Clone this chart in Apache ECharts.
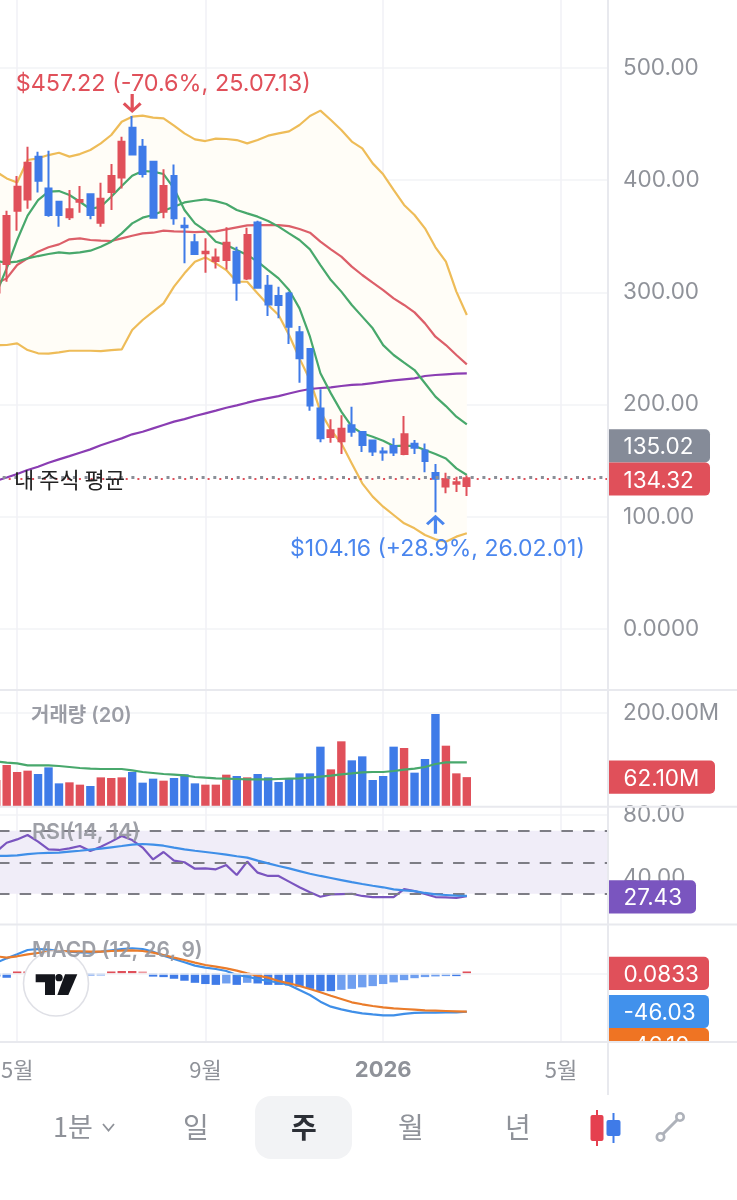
<!DOCTYPE html>
<html><head><meta charset="utf-8">
<style>html,body{margin:0;padding:0;background:#fff}#c{width:737px;height:1200px}</style>
<script src="https://cdn.jsdelivr.net/npm/echarts@6/dist/echarts.min.js"></script>
</head><body><div id="c"></div>
<script>
const weeks=['25-04-13','25-04-20','25-04-27','25-05-04','25-05-11','25-05-18','25-05-25','25-06-01','25-06-08','25-06-15','25-06-22','25-06-29','25-07-06','25-07-13','25-07-20','25-07-27','25-08-03','25-08-10','25-08-17','25-08-24','25-08-31','25-09-07','25-09-14','25-09-21','25-09-28','25-10-05','25-10-12','25-10-19','25-10-26','25-11-02','25-11-09','25-11-16','25-11-23','25-11-30','25-12-07','25-12-14','25-12-21','25-12-28','26-01-04','26-01-11','26-01-18','26-01-25','26-02-01','26-02-08','26-02-15','26-02-22','26-03-01','26-03-08','26-03-15','26-03-22','26-03-29','26-04-05','26-04-12','26-04-19','26-04-26','26-05-03','26-05-10','26-05-17','26-05-24'];
const axisMarks={'25-04-27':'5월','25-08-31':'9월','25-12-28':'2026','26-04-26':'5월'};
const opens=[300,325.3,372.8,382.9,420.9,392.7,380.8,366.9,380.8,387.4,362.1,389.5,402.5,446.8,429.9,416.5,371.9,403.7,359.4,344.6,334.8,328,328.8,336.3,312.5,362.4,306,296.8,299.1,264.4,249.5,196.6,171.1,167.3,181.5,175.6,168.1,158.3,163.1,156,165.2,159.2,139,126.9,129.5,127.4];
const closes=[325,368.1,394.2,415.6,399.5,369,369,374,382.3,369,383.5,403.7,434.3,423,405.5,366.6,394.8,366,358,334.2,336.3,331.2,344.3,308.6,351.1,304.2,289.3,288.7,269.4,241.2,199.3,170,177.1,178.5,175.9,164,158.3,157.2,157.2,173.5,161.6,149.7,134,133.4,130.7,134.32];
const lows=[295,309.5,355,374.6,389.1,367.5,358.6,364.5,371,365.1,358.6,373.4,392.7,422.1,402.5,365.7,366,360.3,325.9,333.3,317.6,321.4,320.5,292.6,311,303.6,278.9,276.9,254,219.5,194.6,166.4,166,155.9,171.4,157.7,154.2,150,154.2,154.8,156,139.6,104.16,120.9,122.1,118.5];
const highs=[330,372.8,403.7,429.9,425.4,426.3,380.8,391.2,394.8,388.3,397.8,414.4,438.8,457.22,436.7,416.5,409.7,414.1,366.9,352,348.2,339.2,358,340.7,357.7,363.9,315.5,305.1,300.6,270,249.5,213.6,186.9,190.4,198.1,175.9,169,161.9,169.9,189.8,168.4,165.4,147,139.3,135.8,136.7];
const maShort=[299,321.4,346.7,368.4,382.3,389.8,390.3,386.8,380.8,374.3,376.4,385.3,394.8,404,408.2,407.6,405.5,392.7,373.4,361.5,355,345.2,342.2,337.8,333.3,327.4,319.9,312.5,302.1,285.8,260.5,227.9,210,193.7,180.3,174.4,171.4,167.8,163.1,163.4,163.1,159.5,155.9,152,143.2,137.3];
const bbMid=[327.9,326.5,327.4,330.3,332.4,334.2,335.7,334.8,335.7,337.2,340.7,345.2,352.6,361.5,366.6,369,372.8,376.4,380.2,381.7,382.9,381.4,378.8,373.4,370.4,367.5,363.6,358.6,352.6,346.7,338.4,324.4,311,300.7,288.8,278.4,268,253,244.2,237.4,230.8,219,207.1,198.7,189.2,182.4];
const maRed=[308,312.5,324.4,330.3,336.3,340.2,342.8,347.3,348.2,346.7,346.1,345.8,348.2,350.5,352.6,353.2,355,354.4,354.1,353.8,354.1,354.4,356.2,358,359.7,360,360,360,359.1,356.5,353.2,345.2,338.4,331.9,323,315.5,308.7,302.1,294.7,288.8,282.2,272.4,260.5,253.1,244.2,235.9];
const maPurple=[132.2,135,138.1,141.7,144.6,148.2,151.2,154.1,157.1,160.1,163.7,166.9,169.9,173.5,175.8,178.8,181.8,184.8,187.1,189.8,192.2,194.6,197.2,199.3,201.7,204,205.8,207.6,209.9,212.1,213.9,214.8,215.4,216.6,217.5,218,219.2,220.4,221.6,222.5,223.4,225.5,226.4,227,227.6,227.9];
const bbUpper=[407.6,401.6,398,418,419.5,422.4,424.5,421,423.3,426.9,432.8,440.3,452.1,456.6,457.5,455.7,455.1,448.6,441.7,436.4,434.9,437,436.7,435.8,432.8,435.8,439.7,441.7,443.5,449.2,457.2,462,453.7,444.7,434.4,428.4,415,405.2,391.3,377.9,369,357.1,340.2,327.4,300.7,279.9];
const bbLower=[253,253.1,254.6,248.6,245.7,245.4,246.5,248,248,248,247.7,248.6,249.2,266.5,275.4,282.8,290.2,305.1,317,327.4,331.2,325.9,319.9,309.5,309.5,299.1,288.7,279.8,262,241.2,222,193.7,177.4,165.5,147.6,129.8,118,109,101.6,94.2,89.7,83.8,79.9,77.8,82.3,85.3];
const volume=[55.9,88.2,73.1,76,68.8,83.1,48.7,50.9,45.9,43,61.6,60.2,61.6,73.1,50.2,58.8,54.5,60.2,68.1,48.7,45.9,45.9,67.4,64.5,61.6,68.8,61.6,51.6,58.8,70.2,70.2,127.6,78.8,139.1,98.2,106.8,55.9,64.5,127.6,124.7,71.7,101.1,197.8,129.7,70.2,62.1];
const volumeMA=[96,93.2,91.8,87.4,87.4,87.4,86,83.9,81.7,80.3,79.6,79.6,79.6,76.7,73.1,71,68.8,67.4,65.9,62.4,60.9,59.5,58.8,58.1,57.3,57.3,57.3,58.1,58.8,59.5,60.9,63.1,65.2,68.1,70.2,72.4,73.1,73.1,75.3,78.1,80.3,83.9,90.3,93.9,93.9,93.9];
const rsi=[56.7,62.4,64.5,67.3,63.1,58.2,57.8,58.8,60.3,57.1,59.9,63.1,66.7,64.1,59.3,51.8,56.5,51,50,45.9,46.1,45.5,48.2,41.9,50.4,43.4,41.3,41.3,37.7,34.1,30.9,28.1,29.6,29.8,30,28.6,27.9,27.9,27.9,33,31.7,29.8,27.9,27.7,27.3,28.5];
const rsiSignal=[54,54,54.4,55.2,55.7,55.9,56.1,56.7,57.3,58,58.6,59.5,60.3,61.2,61.6,61.2,60.5,59.3,58.2,57.3,56.5,55.7,54.8,53.8,52.9,51,49.3,47.6,46.1,44.4,42.7,41.3,40,38.7,37.4,36.2,35.1,34.1,32.8,32.2,31.7,30.5,29.6,29.2,28.8,28.6];
const macdLine=[13.1,18.3,23.2,28.4,29.6,28.8,27.2,26.4,25.6,25.2,26.4,28,29.6,30.5,29.6,26.4,21.6,17.5,13.5,9.5,7,5.4,3,-1.8,-3.8,-6.7,-9.1,-10.7,-13.9,-20,-26,-34.1,-40.2,-43.4,-46.2,-48.2,-49.5,-50.7,-50.7,-49,-47.8,-47.4,-47.4,-47,-47,-46.3];
const macdSignal=[20.8,19.2,20.8,23.2,24.8,26.4,26.8,26.8,26.8,26.4,26.4,27.2,27.6,28,27.2,25.2,22.4,19.2,16.3,13.1,10.3,8.3,6.2,3.4,0.2,-2.6,-5,-9.1,-11.9,-15.1,-18.8,-22.8,-26.9,-30.9,-34.9,-37.3,-39.4,-41,-42.2,-43,-43.8,-44.6,-45,-45.4,-45.8,-46.2];
const macdHist=[-3.8,-5.2,1,1,0.5,-1.3,-1.8,-1.8,-1.8,-1.8,-1.6,0.8,3,3,1.5,-3.8,-4.4,-6.4,-8.8,-11.3,-12.8,-13.8,-12.1,-13.8,-11.3,-12.1,-13.8,-13.8,-14.5,-16.1,-18.6,-21.4,-21.4,-19.8,-18.6,-16.8,-15.3,-12.8,-10.8,-8.1,-5.7,-4.4,-3.6,-3.2,-3.2,0.0833];
const priceTicks={peak:457.22,trough:104.16,last:134.32,avg:135.02};
const tags={vol:62.10,rsi:27.43,hist:0.0833,macd:-46.03,sig:-46.10};

const RED='#e0505a',BLUE='#3f7be8',YEL='#eebc58',GRN='#48a86c',FONT='Inter,"Noto Sans CJK KR",sans-serif',KR='"Noto Sans CJK KR",Inter,sans-serif',GRID='#f2f3f6',SEP='#e8e9ee',GREY='#8f9299';
const L=-9,W=617,idx=i=>axisMarks[weeks[i]]!==undefined;
const chart=echarts.init(document.getElementById('c'));
const xHidden=g=>({type:'category',gridIndex:g,data:weeks,show:false,boundaryGap:true});
const line=(name,data,color,g,w)=>({type:'line',name,data,xAxisIndex:g,yAxisIndex:g,showSymbol:false,symbol:'none',silent:true,lineStyle:{color,width:w||2.2},z:3,animation:false});
const LABEL={show:true,margin:15,align:'left',color:GREY,fontFamily:FONT,fontSize:22.5,verticalAlign:'middle',padding:[8,0,0,0]};
const yBase=(g,o)=>Object.assign({type:'value',gridIndex:g,position:'right',axisLine:{show:false},axisTick:{show:false},
  splitLine:{show:true,lineStyle:{color:GRID,width:1.5}}},o);

const ARROW_DOWN='path://M42 0H58V72L86 44L97 55L50 100L3 55L14 44L42 72Z';
const ARROW_UP='path://M42 100H58V28L86 56L97 45L50 0L3 45L14 56L42 28Z';
const gridOf=(left,width,top,height)=>({left,width,top,height,containLabel:false,outerBoundsMode:'none'});

chart.setOption({
  animation:false,backgroundColor:'#fff',
  grid:[gridOf(-3.77,606.6,0,1042),gridOf(L,W,-44.2,673.2),gridOf(L,W,689.75,116.25),gridOf(L,W,815,126),gridOf(L,W,923.9,132.2)],
  xAxis:[
    {type:'category',gridIndex:0,data:weeks,boundaryGap:false,axisLine:{show:false},axisTick:{show:false},
     splitLine:{show:true,interval:idx,lineStyle:{color:'#f0f1f6',width:1.5}},
     axisLabel:{show:true,interval:idx,margin:17,hideOverlap:false,
       formatter:v=>axisMarks[v]==='2026'?'{b|2026}':'{n|'+(axisMarks[v]||'')+'}',
       rich:{b:{fontFamily:FONT,fontWeight:700,fontSize:22,color:GREY},n:{fontFamily:KR,fontSize:22,color:GREY}}}},
    xHidden(1),xHidden(2),xHidden(3),xHidden(4)
  ],
  yAxis:[
    {type:'value',gridIndex:0,show:false,min:0,max:1},
    yBase(1,{min:0,max:600,interval:100,axisLabel:Object.assign({},LABEL,{formatter:v=>v===0?'0.0000':v.toFixed(2)})}),
    yBase(2,{min:0,max:250,interval:200,splitLine:{show:true,showMinLine:false,showMaxLine:false,lineStyle:{color:GRID,width:1.5}},
      axisLabel:Object.assign({},LABEL,{showMaxLabel:false,formatter:v=>v===200?'200.00M':''})}),
    yBase(3,{min:0,max:80,interval:40,splitLine:{show:true,showMinLine:false,lineStyle:{color:GRID,width:1.5}},
      axisLabel:Object.assign({},LABEL,{formatter:v=>v===0?'':v.toFixed(2)})}),
    {type:'value',gridIndex:4,show:false,min:-100,max:60}
  ],
  series:[
    {type:'line',name:'bbBase',data:bbLower,stack:'bb',xAxisIndex:1,yAxisIndex:1,symbol:'none',lineStyle:{opacity:0},silent:true,z:1},
    {type:'line',name:'bbFill',data:bbUpper.map((u,i)=>+(u-bbLower[i]).toFixed(2)),stack:'bb',xAxisIndex:1,yAxisIndex:1,symbol:'none',lineStyle:{opacity:0},areaStyle:{color:'#fffdf7',opacity:1},silent:true,z:1},
    line('BB upper',bbUpper,YEL,1),line('BB lower',bbLower,YEL,1),
    line('MA purple',maPurple,'#8a3db3',1),line('MA red',maRed,'#dc5f69',1),line('BB mid',bbMid,GRN,1),
    {type:'candlestick',name:'price',xAxisIndex:1,yAxisIndex:1,barWidth:6.4,z:4,silent:true,
     data:opens.map((o,i)=>[o,closes[i],lows[i],highs[i]]),
     itemStyle:{color:RED,color0:BLUE,borderColor:RED,borderColor0:BLUE,borderWidth:2},
     markLine:{silent:true,symbol:'none',animation:false,label:{show:false},data:[
       {yAxis:priceTicks.avg,lineStyle:{color:'#8a8f98',type:[3,8.7],width:3,dashOffset:0}},
       {yAxis:priceTicks.last,lineStyle:{color:RED,type:[2,9.7],width:2,dashOffset:-6}}]},
     markPoint:{silent:true,animation:false,data:[
       {coord:[weeks[13],priceTicks.peak],symbol:ARROW_DOWN,symbolSize:19,symbolOffset:[0,-12.5],itemStyle:{color:RED},
        label:{show:true,position:'inside',offset:[31,-19.5],formatter:'$457.22 (-70.6%, 25.07.13)',color:RED,fontFamily:FONT,fontSize:23.4}},
       {coord:[weeks[42],priceTicks.trough],symbol:ARROW_UP,symbolSize:19,symbolOffset:[0,12],itemStyle:{color:'#4a86ee'},
        label:{show:true,position:'inside',offset:[2,25],formatter:'$104.16 (+28.9%, 26.02.01)',color:'#4a86ee',fontFamily:FONT,fontSize:23}}
     ]}},
    line('MA green',maShort,GRN,1),
    {type:'bar',name:'volume',xAxisIndex:2,yAxisIndex:2,barWidth:8.4,silent:true,z:2,
     data:volume.map((v,i)=>({value:v,itemStyle:{color:closes[i]>=opens[i]?RED:BLUE}}))},
    line('volume MA',volumeMA,GRN,2),
    Object.assign(line('RSI signal',rsiSignal,'#3f8fe8',3),{z:5}),
    Object.assign(line('RSI',rsi,'#7a55bf',3),{z:4,
      markArea:{silent:true,animation:false,itemStyle:{color:'#f0edf8'},data:[[{yAxis:70},{yAxis:30}]]},
      markLine:{silent:true,symbol:'none',animation:false,label:{show:false},
        lineStyle:{color:'#7d7d85',type:[11.5,10.17],width:2,dashOffset:14.67},
        data:[{yAxis:70},{yAxis:50},{yAxis:30}]}}),
    {type:'bar',name:'hist',xAxisIndex:4,yAxisIndex:4,barWidth:8.4,barMinHeight:2,silent:true,z:2,
     data:macdHist.map((v,i)=>{const p=i?macdHist[i-1]:v;
       return {value:v,itemStyle:{color:v>=0?(v>=p?RED:'#ee9aa0'):(v<=p?BLUE:'#6f9ff0')}}}),
     markLine:{silent:true,symbol:'none',animation:false,label:{show:false},lineStyle:{color:GRID,width:1.5,type:'solid'},data:[{yAxis:0}]}},
    line('MACD',macdLine,'#3f8fe8',4),line('MACD signal',macdSignal,'#ea7c2b',4)
  ]
});

const py=(g,v)=>chart.convertToPixel({yAxisIndex:g},v);
const TH=33.2,TX=608;
const tag=(cy,w,fill,text,z)=>({type:'group',z:z||60,children:[
  {type:'rect',z:z||60,shape:{x:TX,y:cy-TH/2,width:w,height:TH,r:[0,5,5,0]},style:{fill}},
  {type:'text',z:(z||60)+1,x:623.5,y:cy+1.8,style:{text,fill:'#fff',font:'22.5px '+FONT,align:'left',verticalAlign:'middle'}}]});
const txt=(x,y,text,fill,font,align,z)=>({type:'text',z:z||70,x,y,style:{text,fill,font,align:align||'left',verticalAlign:'middle'}});
const hline=(y,x1,x2,w,c)=>({type:'line',z:80,shape:{x1,y1:y,x2,y2:y},style:{stroke:c||SEP,lineWidth:w||2}});
const redY=py(1,priceTicks.last)+.7,blueY=py(4,tags.macd);
const CH=(x,y,w,h,f,r)=>({type:'rect',z:70,shape:{x,y,width:w,height:h,r:r||0},style:{fill:f}});
const toPx=(a,ox,oy)=>a.map(p=>[ox+p[0]/3,oy+p[1]/3]);
chart.setOption({graphic:{elements:[
  ...[690,806.7,924.5].map(y=>hline(y,0,737)),
  {type:'line',z:80,shape:{x1:608,y1:0,x2:608,y2:1095},style:{stroke:SEP,lineWidth:2}},
  tag(redY-TH,102,'#858b98',priceTicks.avg.toFixed(2)),
  tag(redY,102,RED,priceTicks.last.toFixed(2),61),
  tag(py(2,tags.vol),107,RED,tags.vol.toFixed(2)+'M'),
  tag(py(3,tags.rsi)-1,88,'#7a55bf',tags.rsi.toFixed(2)),
  tag(py(4,tags.hist),101,RED,String(tags.hist)),
  tag(blueY,101,'#4191ec',tags.macd.toFixed(2)),
  tag(blueY+TH,101,'#ef7423',tags.sig.toFixed(2)),
  {type:'rect',z:75,shape:{x:609,y:1041,width:128,height:60},style:{fill:'#fff'}},
  hline(1042,0,737),
  txt(14,py(1,priceTicks.avg)+2,'내 주식 평균','#222','22px '+KR),
  txt(31,716,'거래량 (20)','#9b9da5','600 20px '+FONT),
  txt(32,833,'RSI(14, 14)','rgba(150,152,160,.92)','600 21.5px '+FONT),
  txt(32,951,'MACD (12, 26, 9)','rgba(150,152,160,.92)','600 21px '+FONT),
  {type:'circle',z:50,shape:{cx:56,cy:983.5,r:32.5},style:{fill:'#fff',stroke:'#dfe0e6',lineWidth:1.6}},
  {type:'polygon',z:51,shape:{points:toPx([[107,148],[165,148],[165,210],[135,210],[135,172],[107,172]],0,925)},style:{fill:'#14161c'}},
  {type:'circle',z:51,shape:{cx:177/3,cy:925+158/3,r:3.7},style:{fill:'#14161c'}},
  {type:'polygon',z:51,shape:{points:toPx([[195,148],[232,148],[205,210],[172,210]],0,925)},style:{fill:'#14161c'}},
  {type:'rect',z:70,shape:{x:255,y:1096,width:97,height:63,r:16},style:{fill:'#f2f3f5'}},
  txt(53,1127,'1분',GREY,'27px '+KR),
  {type:'polyline',z:70,shape:{points:[[103,1124],[108.5,1130.5],[114,1124]]},style:{stroke:GREY,lineWidth:1.8,fill:null}},
  txt(196,1127,'일',GREY,'28px '+KR,'center'),
  txt(304,1127,'주','#2c2f36','700 28px '+KR,'center',71),
  txt(411,1127,'월',GREY,'28px '+KR,'center'),
  txt(518,1127,'년',GREY,'28px '+KR,'center'),
  CH(596,1110,2,36,'#e5404f'),CH(590.5,1115,13,26,'#e5404f',2),
  CH(612.5,1113,2,30,'#3f7be8'),CH(606.5,1120,14,16,'#3f7be8',2),
  {type:'line',z:70,shape:{x1:663,y1:1134,x2:677,y2:1120},style:{stroke:'#aeb2ba',lineWidth:3}},
  {type:'circle',z:71,shape:{cx:680,cy:1117,r:3.7},style:{fill:'#fff',stroke:'#aeb2ba',lineWidth:2.6}},
  {type:'circle',z:71,shape:{cx:660.5,cy:1137,r:3.7},style:{fill:'#fff',stroke:'#aeb2ba',lineWidth:2.6}}
]}});
</script></body></html>
